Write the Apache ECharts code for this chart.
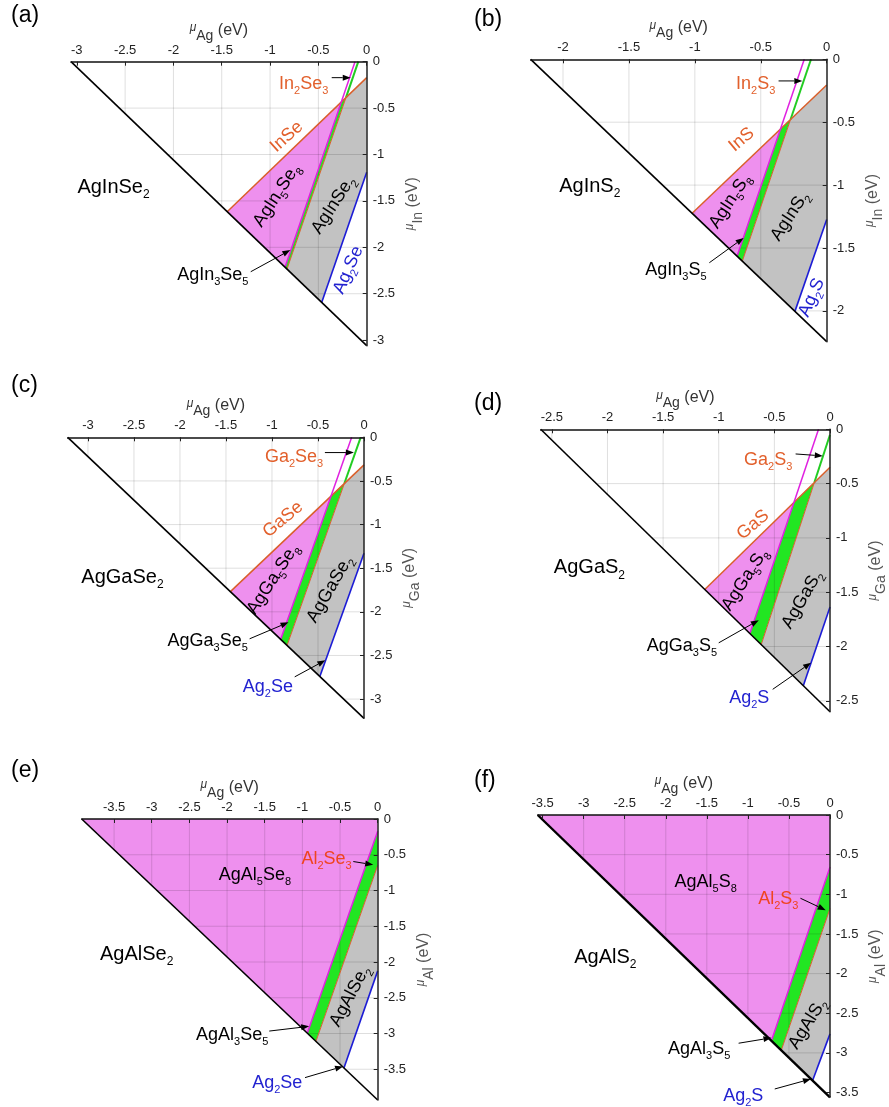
<!DOCTYPE html>
<html>
<head>
<meta charset="utf-8">
<script src="https://cdn.jsdelivr.net/npm/echarts@6/dist/echarts.min.js"></script>
<style>
  html, body { margin: 0; padding: 0; background: #fff; }
  #chart { width: 889px; height: 1107px; }
</style>
</head>
<body>
<div id="chart"></div>
<script>
// Chemical-potential stability diagrams of Ag–III–VI chalcopyrites (values in eV)

const panelTags = ['(a)', '(b)', '(c)', '(d)', '(e)', '(f)'];
const cation = ['In', 'In', 'Ga', 'Ga', 'Al', 'Al'];
const hostPhase = ['AgInSe_2', 'AgInS_2', 'AgGaSe_2', 'AgGaS_2', 'AgAlSe_2', 'AgAlS_2'];
const phase158 = ['AgIn_5Se_8', 'AgIn_5S_8', 'AgGa_5Se_8', 'AgGa_5S_8', 'AgAl_5Se_8', 'AgAl_5S_8'];
const phase135 = ['AgIn_3Se_5', 'AgIn_3S_5', 'AgGa_3Se_5', 'AgGa_3S_5', 'AgAl_3Se_5', 'AgAl_3S_5'];
const monoPhase = ['InSe', 'InS', 'GaSe', 'GaS', null, null];
const sesquiPhase = ['In_2Se_3', 'In_2S_3', 'Ga_2Se_3', 'Ga_2S_3', 'Al_2Se_3', 'Al_2S_3'];
const silverPhase = ['Ag_2Se', 'Ag_2S', 'Ag_2Se', 'Ag_2S', 'Ag_2Se', 'Ag_2S'];

// Host formation enthalpy: the hypotenuse  mu_Ag + mu_M = dH
const formationEnthalpy = [-3.06, -2.245, -3.22, -2.6, -3.93, -3.56];

const xTicks = [
  [-3, -2.5, -2, -1.5, -1, -0.5, 0],
  [-2, -1.5, -1, -0.5, 0],
  [-3, -2.5, -2, -1.5, -1, -0.5, 0],
  [-2.5, -2, -1.5, -1, -0.5, 0],
  [-3.5, -3, -2.5, -2, -1.5, -1, -0.5, 0],
  [-3.5, -3, -2.5, -2, -1.5, -1, -0.5, 0]
];
const yTicks = [
  [-3, -2.5, -2, -1.5, -1, -0.5, 0],
  [-2, -1.5, -1, -0.5, 0],
  [-3, -2.5, -2, -1.5, -1, -0.5, 0],
  [-2.5, -2, -1.5, -1, -0.5, 0],
  [-3.5, -3, -2.5, -2, -1.5, -1, -0.5, 0],
  [-3.5, -3, -2.5, -2, -1.5, -1, -0.5, 0]
];

// Boundary lines, each as two end points [mu_Ag, mu_M]
const monoLine = [
  [[-1.444, -1.616], [0, -0.172]],
  [[-1.0205, -1.2245], [0, -0.204]],
  [[-1.452, -1.768], [0, -0.316]],
  [[-1.1255, -1.4745], [0, -0.349]],
  null,
  null
];
const line158 = [
  [[-0.121, 0], [-0.845, -2.215]],
  [[-0.170, 0], [-0.68, -1.565]],
  [[-0.134, 0], [-0.905, -2.315]],
  [[-0.103, 0], [-0.72, -1.88]],
  [[0, -0.17], [-0.935, -2.995]],
  [[0, -0.655], [-0.713, -2.847]]
];
const line135 = [
  [[-0.087, 0], [-0.825, -2.235]],
  [[-0.119, 0], [-0.64, -1.605]],
  [[-0.036, 0], [-0.836, -2.384]],
  [[0, -0.05], [-0.618, -1.982]],
  [[0, -0.65], [-0.82, -3.11]],
  [[0, -1.18], [-0.593, -2.967]]
];
const silverLine = [
  [[0, -1.19], [-0.466, -2.594]],
  [[0, -1.273], [-0.241, -2.004]],
  [[0, -1.329], [-0.48, -2.74]],
  [[0, -1.635], [-0.24, -2.36]],
  [[0, -2.124], [-0.448, -3.482]],
  [[0, -2.76], [-0.212, -3.348]]
];

// ---- layout ----
const FONT = '"Liberation Sans", Arial, Helvetica, sans-serif';
const panelBox = [
  [71, 61.7, 295.7, 284],
  [530.7, 59.3, 296, 282.4],
  [67.7, 437.3, 296.3, 281],
  [540.7, 429.3, 296, 282.4],
  [81.7, 819, 296, 281],
  [537.7, 815, 296.6, 282.3]
];
const tagPos = [[11, 4], [474, 8], [11, 374], [474, 392], [11, 759], [474, 769]];
const hypWidth = [1.6, 1.6, 1.6, 1.6, 1.6, 2.4];

// label anchors in data coordinates; rotation in degrees
const labelPos = [
  { host: [-2.62, -1.35], p158: [-0.93, -1.44, 57], hostIn: [-0.345, -1.544, 57], mono: [-0.827, -0.808, 42], silver: [-0.19, -2.245, 66] },
  { host: [-1.797, -1.01], p158: [-0.734, -1.128, 57], hostIn: [-0.279, -1.247, 57], mono: [-0.645, -0.639, 40], silver: [-0.114, -1.894, 66] },
  { host: [-2.625, -1.606], p158: [-0.989, -1.625, 57], hostIn: [-0.371, -1.739, 60], mono: [-0.88, -0.942, 40] },
  { host: [-2.162, -1.276], p158: [-0.765, -1.384, 57], hostIn: [-0.25, -1.567, 60], mono: [-0.692, -0.879, 40] },
  { host: [-3.2, -1.897], p158: [-1.63, -0.781, 0], hostIn: [-0.368, -2.478, 62] },
  { host: [-2.736, -1.791], p158: [-1.514, -0.843, 0], hostIn: [-0.272, -2.633, 58] }
];
// arrow callouts: text right edge, arrow tail, arrow head
const arrowPos = [
  { sesqui: [[-0.397, -0.216], [-0.362, -0.172], [-0.165, -0.172]],
    p135: [[-1.224, -2.28], [-1.2, -2.263], [-0.79, -2.03]] },
  { sesqui: [[-0.39, -0.177], [-0.365, -0.172], [-0.185, -0.172]],
    p135: [[-0.911, -1.656], [-0.89, -1.617], [-0.63, -1.42]] },
  { sesqui: [[-0.444, -0.202], [-0.425, -0.175], [-0.11, -0.175]],
    p135: [[-1.262, -2.309], [-1.243, -2.309], [-0.82, -2.12]],
    silver: [[-0.772, -2.84], [-0.753, -2.745], [-0.42, -2.555]] },
  { sesqui: [[-0.339, -0.266], [-0.309, -0.227], [-0.065, -0.245]],
    p135: [[-1.015, -1.981], [-1.0, -1.966], [-0.64, -1.757]],
    silver: [[-0.545, -2.455], [-0.515, -2.394], [-0.17, -2.149]] },
  { sesqui: [[-0.345, -0.526], [-0.324, -0.595], [-0.06, -0.64]],
    p135: [[-1.453, -2.989], [-1.44, -2.966], [-0.91, -2.9]],
    silver: [[-1.0, -3.664], [-0.965, -3.617], [-0.46, -3.46]] },
  { sesqui: [[-0.385, -1.033], [-0.36, -1.05], [-0.052, -1.2]],
    p135: [[-1.214, -2.929], [-1.113, -2.878], [-0.713, -2.81]],
    silver: [[-0.812, -3.518], [-0.673, -3.455], [-0.232, -3.329]] }
];

const C = {
  pink: '#ee90ee', green: '#22e622', grey: '#c2c2c2',
  orange: '#d95f2b', magenta: '#e020e0', greenLine: '#22cc22', blue: '#1c1cd6',
  orangeText: '#e2602c', redText: '#f0441f', blueText: '#2222d0', grid: 'rgba(0,0,0,0.13)'
};

// ---- helpers ----
function intersect(a, b) {
  const [[x1, y1], [x2, y2]] = a, [[x3, y3], [x4, y4]] = b;
  const d = (x1 - x2) * (y3 - y4) - (y1 - y2) * (x3 - x4);
  const t = ((x1 - x3) * (y3 - y4) - (y1 - y3) * (x3 - x4)) / d;
  return [x1 + t * (x2 - x1), y1 + t * (y2 - y1)];
}
function rich(s) {
  return s.split(/(_\w)/).filter(t => t).map(t => t[0] === '_' ? '{s|' + t[1] + '}' : '{n|' + t + '}').join('');
}
function richStyles(size, sub, drop) {
  return {
    n: { fontSize: size, fontFamily: FONT },
    s: { fontSize: sub, fontFamily: FONT, padding: [drop, 0, 0, 0] }
  };
}
const RICH_BIG = richStyles(20, 12, 15);
const RICH_LBL = richStyles(18, 11, 14);

function regions(i) {
  const dH = formationEnthalpy[i];
  const m = line158[i], g = line135[i], s = silverLine[i], b = monoLine[i];
  if (b) {
    const p2 = intersect(b, m), p3 = intersect(b, g);
    return {
      polys: [
        { pts: [b[0], p2, m[1]], color: C.pink },
        { pts: [p2, p3, g[1], m[1]], color: C.green },
        { pts: [p3, b[1], s[0], s[1], g[1]], color: C.grey }
      ],
      lines: [
        { pts: [g[0], p3], color: C.greenLine, width: 2 },
        { pts: [p3, g[1]], color: C.orange, width: 1 },
        { pts: b, color: C.orange, width: 1.5 },
        { pts: m, color: C.magenta, width: 1.5 },
        { pts: s, color: C.blue, width: 1.6 }
      ]
    };
  }
  return {
    polys: [
      { pts: [[dH, 0], [0, 0], m[0], m[1]], color: C.pink },
      { pts: [m[0], g[0], g[1], m[1]], color: C.green },
      { pts: [g[0], s[0], s[1], g[1]], color: C.grey }
    ],
    lines: [
      { pts: g, color: C.orange, width: 1 },
      { pts: m, color: C.magenta, width: 1.5 },
      { pts: s, color: C.blue, width: 1.6 }
    ]
  };
}

function annotations(i) {
  const L = labelPos[i], A = arrowPos[i];
  const items = [];
  items.push({ kind: 'text', text: hostPhase[i], at: L.host, rot: 0, color: '#000', big: true });
  items.push({ kind: 'text', text: phase158[i], at: L.p158, rot: L.p158[2], color: '#000' });
  items.push({ kind: 'text', text: hostPhase[i], at: L.hostIn, rot: L.hostIn[2], color: '#000' });
  if (L.mono) items.push({ kind: 'text', text: monoPhase[i], at: L.mono, rot: L.mono[2], color: C.orangeText });
  if (L.silver) items.push({ kind: 'text', text: silverPhase[i], at: L.silver, rot: L.silver[2], color: C.blueText });
  const sesquiColor = i >= 4 ? C.redText : C.orangeText;
  items.push({ kind: 'arrow', text: sesquiPhase[i], spec: A.sesqui, color: sesquiColor });
  items.push({ kind: 'arrow', text: phase135[i], spec: A.p135, color: '#000' });
  if (A.silver) items.push({ kind: 'arrow', text: silverPhase[i], spec: A.silver, color: C.blueText });
  return items;
}

function arrowHead(p0, p1) {
  const dx = p1[0] - p0[0], dy = p1[1] - p0[1], len = Math.hypot(dx, dy);
  const ux = dx / len, uy = dy / len, hl = 8, hw = 3;
  const bx = p1[0] - ux * hl, by = p1[1] - uy * hl;
  return { base: [bx, by], tri: [[p1[0], p1[1]], [bx - uy * hw, by + ux * hw], [bx + uy * hw, by - ux * hw]] };
}

function axisName(sub) {
  return '{m|μ}{s|' + sub + '}{n| (eV)}';
}
function axisNameStyle(color) {
  return {
    color: color,
    rich: {
      m: { fontSize: 12, fontFamily: FONT, fontStyle: 'italic', color: color, padding: [0, 0, 5, 0] },
      s: { fontSize: 14, fontFamily: FONT, color: color, padding: [11, 0, 0, 0] },
      n: { fontSize: 16, fontFamily: FONT, color: color }
    }
  };
}

// ---- option ----
const grid = [], xAxis = [], yAxis = [], series = [], graphic = [];

panelTags.forEach((tag, i) => {
  const dH = formationEnthalpy[i];
  const [left, top, width, height] = panelBox[i];
  grid.push({ left, top, width, height, containLabel: false });

  xAxis.push({
    gridIndex: i, type: 'value', position: 'top', min: dH, max: 0, z: 10,
    name: axisName('Ag'), nameLocation: 'middle', nameGap: 17, nameTextStyle: axisNameStyle('#333'),
    axisLine: { show: true, onZero: false, lineStyle: { color: '#111', width: 1.5 } },
    axisTick: { show: true, inside: true, length: 4, customValues: xTicks[i], lineStyle: { color: '#222' } },
    axisLabel: { customValues: xTicks[i], margin: 5, fontSize: 13, color: '#222', fontFamily: FONT, formatter: v => String(v) },
    splitLine: { show: false }
  });
  yAxis.push({
    gridIndex: i, type: 'value', position: 'right', min: dH, max: 0, z: 10,
    name: axisName(cation[i]), nameLocation: 'middle', nameGap: 33, nameRotate: 90, nameTextStyle: axisNameStyle('#555'),
    axisLine: { show: true, onZero: false, lineStyle: { color: '#222', width: 1.5 } },
    axisTick: { show: true, inside: true, length: 4, customValues: yTicks[i], lineStyle: { color: '#222' } },
    axisLabel: { customValues: yTicks[i], margin: 6, fontSize: 13, color: '#222', fontFamily: FONT, formatter: v => String(v) },
    splitLine: { show: false }
  });

  const reg = regions(i);

  // filled stability regions
  series.push({
    type: 'custom', xAxisIndex: i, yAxisIndex: i, z: 1, silent: true, animation: false,
    data: reg.polys.map((p, k) => [p.pts[0][0], p.pts[0][1], k]),
    encode: { x: 0, y: 1 },
    renderItem: (params, api) => {
      const p = reg.polys[params.dataIndex];
      return { type: 'polygon', shape: { points: p.pts.map(q => api.coord(q)) }, style: { fill: p.color } };
    }
  });

  // grid lines, kept inside the triangle
  const gridData = xTicks[i].filter(v => v < 0 && v > dH).map(v => [v, 0, 0])
    .concat(yTicks[i].filter(v => v < 0 && v > dH).map(v => [0, v, 1]));
  series.push({
    type: 'custom', xAxisIndex: i, yAxisIndex: i, z: 2, silent: true, animation: false,
    data: gridData, encode: { x: 0, y: 1 },
    renderItem: (params, api) => {
      const d = gridData[params.dataIndex];
      let a, b;
      if (d[2] === 0) { a = api.coord([d[0], 0]); b = api.coord([d[0], dH - d[0]]); }
      else { a = api.coord([dH - d[1], d[1]]); b = api.coord([0, d[1]]); }
      return { type: 'line', shape: { x1: a[0], y1: a[1], x2: b[0], y2: b[1] }, style: { stroke: C.grid, lineWidth: 1 } };
    }
  });

  // phase boundary lines
  reg.lines.forEach(l => {
    series.push({
      type: 'line', xAxisIndex: i, yAxisIndex: i, z: 3, silent: true, animation: false, clip: false,
      data: l.pts, symbol: 'none', showSymbol: false,
      lineStyle: { color: l.color, width: l.width }
    });
  });

  // hypotenuse mu_Ag + mu_M = dH
  series.push({
    type: 'line', xAxisIndex: i, yAxisIndex: i, z: 4, silent: true, animation: false, clip: false,
    data: [[dH, 0], [0, dH]], symbol: 'none', showSymbol: false,
    lineStyle: { color: '#000', width: hypWidth[i] }
  });

  // phase labels and arrow callouts
  const ann = annotations(i);
  series.push({
    type: 'custom', xAxisIndex: i, yAxisIndex: i, z: 5, silent: true, animation: false, clip: false,
    data: ann.map((a, k) => [0, 0, k]), encode: { x: 0, y: 1 },
    renderItem: (params, api) => {
      const a = ann[params.dataIndex];
      if (a.kind === 'text') {
        const p = api.coord([a.at[0], a.at[1]]);
        return {
          type: 'text', x: p[0], y: p[1], rotation: a.rot * Math.PI / 180,
          style: { text: rich(a.text), rich: a.big ? RICH_BIG : RICH_LBL, fill: a.color, align: 'center', verticalAlign: 'middle' }
        };
      }
      const t = api.coord(a.spec[0]), p0 = api.coord(a.spec[1]), p1 = api.coord(a.spec[2]);
      const h = arrowHead(p0, p1);
      return {
        type: 'group',
        children: [
          { type: 'text', x: t[0], y: t[1] + 2, style: { text: rich(a.text), rich: RICH_LBL, fill: a.color, align: 'right', verticalAlign: 'middle' } },
          { type: 'line', shape: { x1: p0[0], y1: p0[1], x2: h.base[0], y2: h.base[1] }, style: { stroke: '#000', lineWidth: 1 } },
          { type: 'polygon', shape: { points: h.tri }, style: { fill: '#000' } }
        ]
      };
    }
  });

  graphic.push({
    type: 'text', left: tagPos[i][0], top: tagPos[i][1],
    style: { text: tag, fontSize: 23, fontFamily: FONT, fill: '#000' }
  });
});

const chart = echarts.init(document.getElementById('chart'), null, { renderer: 'canvas' });
chart.setOption({
  backgroundColor: '#fff',
  animation: false,
  grid, xAxis, yAxis, series, graphic
});
</script>
</body>
</html>
